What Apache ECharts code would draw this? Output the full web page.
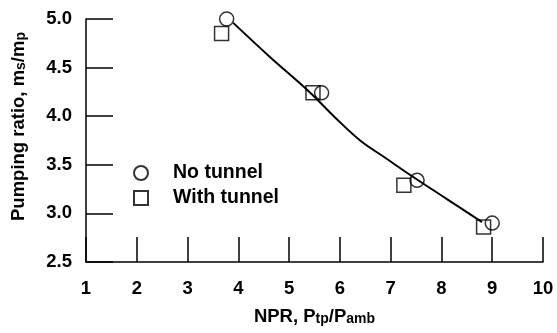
<!DOCTYPE html>
<html>
<head>
<meta charset="utf-8">
<script src="https://cdn.jsdelivr.net/npm/echarts@6/dist/echarts.min.js"></script>
<style>html,body{margin:0;padding:0;background:#fff;}#c{width:557px;height:333px;}</style>
</head>
<body>
<div id="c"></div>
<script>
// Data
var noTunnelX = [3.77, 5.64, 7.52, 9.0];
var noTunnelY = [5.0, 4.24, 3.34, 2.90];
var withTunnelX = [3.67, 5.47, 7.26, 8.83];
var withTunnelY = [4.85, 4.24, 3.29, 2.86];
var curveX = [3.9, 4.6, 5.4, 5.9, 6.4, 6.9, 7.4, 8.1, 8.8];
var curveY = [4.96, 4.62, 4.25, 3.99, 3.75, 3.57, 3.39, 3.15, 2.91];
var xTicks = [1, 2, 3, 4, 5, 6, 7, 8, 9, 10];
var yTicks = ['2.5', '3.0', '3.5', '4.0', '4.5', '5.0'];

function pairs(xs, ys) { return xs.map(function (x, i) { return [x, ys[i]]; }); }

var FONT = 'Liberation Sans';
var chart = echarts.init(document.getElementById('c'), null, { renderer: 'canvas' });
var rich = {
  n: { fontFamily: FONT, fontWeight: 'bold', fontSize: 18.5, color: '#000', lineHeight: 18, verticalAlign: 'bottom' },
  s: { fontFamily: FONT, fontWeight: 'bold', fontSize: 14, color: '#000', lineHeight: 3, verticalAlign: 'bottom' }
};
chart.setOption({
  animation: false,
  backgroundColor: '#fff',
  grid: { left: 86, top: 19, right: 14, bottom: 71, containLabel: false },
  legend: {
    orient: 'vertical', left: 133, top: 163, padding: 0, itemGap: 5,
    itemWidth: 14, itemHeight: 14,
    data: ['No tunnel', 'With tunnel'],
    textStyle: { fontFamily: FONT, fontWeight: 'bold', fontSize: 19.5, color: '#000', padding: [0, 0, 0, 20] }
  },
  xAxis: {
    type: 'value', min: 1, max: 10, interval: 1,
    name: '{n|NPR, P}{s|tp}{n|/P}{s|amb}', nameLocation: 'middle', nameGap: 46,
    nameTextStyle: { rich: rich },
    axisLine: { lineStyle: { color: '#000', width: 1.5 } },
    axisTick: { inside: true, length: 25, lineStyle: { color: '#000', width: 1.5 } },
    axisLabel: { margin: 17, fontFamily: FONT, fontWeight: 'bold', fontSize: 18.5, color: '#000',
      formatter: function (v) { return xTicks.indexOf(v) >= 0 ? String(v) : ''; } },
    splitLine: { show: false }
  },
  yAxis: {
    type: 'value', min: 2.5, max: 5.0, interval: 0.5,
    name: '{n|Pumping ratio, m}{s|s}{n|/m}{s|p}', nameLocation: 'middle', nameGap: 58, nameRotate: 90,
    nameTextStyle: { rich: rich, padding: [0, 0, 0, 28] },
    axisLine: { show: true, lineStyle: { color: '#000', width: 1.5 } },
    axisTick: { show: true, inside: true, length: 27, lineStyle: { color: '#000', width: 1.5 } },
    axisLabel: { margin: 14, fontFamily: FONT, fontWeight: 'bold', fontSize: 18.5, color: '#000',
      formatter: function (v) { var s = v.toFixed(1); return yTicks.indexOf(s) >= 0 ? s : ''; } },
    splitLine: { show: false }
  },
  series: [
    { type: 'line', name: 'fit', data: pairs(curveX, curveY), smooth: 0.4, showSymbol: false, symbol: 'none',
      lineStyle: { color: '#000', width: 2 }, z: 1, silent: true },
    { type: 'scatter', name: 'With tunnel', data: pairs(withTunnelX, withTunnelY), symbol: 'rect', symbolSize: 14,
      itemStyle: { color: 'rgba(255,255,255,0)', borderColor: '#000', borderWidth: 1.5 }, z: 2 },
    { type: 'scatter', name: 'No tunnel', data: pairs(noTunnelX, noTunnelY), symbol: 'circle', symbolSize: 14,
      itemStyle: { color: 'rgba(255,255,255,0)', borderColor: '#000', borderWidth: 1.5 }, z: 3 }
  ]
});
</script>
</body>
</html>
